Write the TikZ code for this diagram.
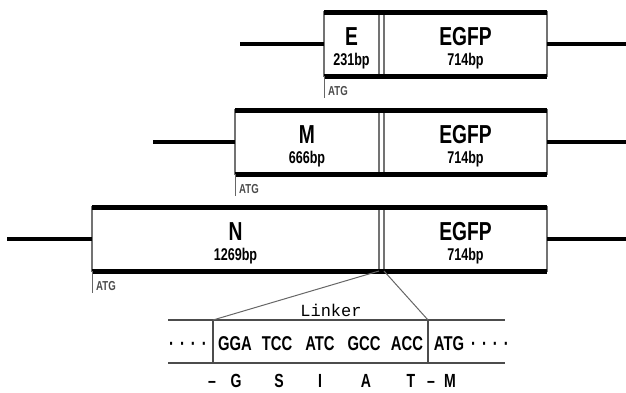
\documentclass[tikz,border=0pt]{standalone}
\usepackage{fontspec}
\setmainfont{Liberation Sans}
\newfontfamily\narrowfont[FakeStretch=0.74]{Liberation Sans}
\newfontfamily\linkerfont{Liberation Mono}
\usetikzlibrary{positioning}

\begin{document}
\begin{tikzpicture}[
  x=1pt,y=-1pt,
  segment/.style={draw=black!55,line width=1.2pt,minimum height=64pt,inner sep=0pt,outer sep=0pt,anchor=north west},
  bar/.style={line width=5pt},
  flank/.style={line width=4.5pt},
  genename/.style={font=\narrowfont\bfseries\fontsize{26}{26}\selectfont,anchor=base},
  bplabel/.style={font=\narrowfont\bfseries\fontsize{17}{17}\selectfont,anchor=base},
  atgmark/.style={draw=black!60,line width=1pt},
  atglabel/.style={text=black!70,font=\narrowfont\bfseries\fontsize{13}{13}\selectfont,anchor=base west,inner sep=0pt},
  strand/.style={draw=black!70,line width=1.3pt},
  zoomline/.style={draw=black!60,line width=1pt},
  codon/.style={font=\narrowfont\bfseries\fontsize{20}{20}\selectfont,anchor=base},
  residue/.style={font=\narrowfont\bfseries\fontsize{19}{19}\selectfont,anchor=base}
]
  \useasboundingbox (0,0) rectangle (626,392);

  % E construct
  \node[segment,minimum width=55pt] (E) at (324,12) {};
  \node[segment,minimum width=163pt,right=5pt of E] (GFPe) {};
  \draw[bar] (E.north west) -- (GFPe.north east);
  \draw[bar] (E.south west) -- (GFPe.south east);
  \coordinate (Le) at (240,44);
  \coordinate (Re) at (626,44);
  \draw[flank] (Le) -- (E.west);
  \draw[flank] (GFPe.east) -- (Re);
  \node[genename] at ([yshift=-33pt]E.north) {E};
  \node[bplabel] at ([yshift=-53pt]E.north) {231bp};
  \node[genename] at ([yshift=-33pt]GFPe.north) {EGFP};
  \node[bplabel] at ([yshift=-53pt]GFPe.north) {714bp};
  \draw[atgmark] (E.south west) -- ++(0,22) coordinate (Ae);
  \node[atglabel] at ([shift={(4pt,-19pt)}]E.south west) {ATG};

  % M construct
  \node[segment,minimum width=144pt] (M) at (235,110) {};
  \node[segment,minimum width=163pt,right=5pt of M] (GFPm) {};
  \draw[bar] (M.north west) -- (GFPm.north east);
  \draw[bar] (M.south west) -- (GFPm.south east);
  \coordinate (Lm) at (153,142);
  \coordinate (Rm) at (626,142);
  \draw[flank] (Lm) -- (M.west);
  \draw[flank] (GFPm.east) -- (Rm);
  \node[genename] at ([yshift=-33pt]M.north) {M};
  \node[bplabel] at ([yshift=-53pt]M.north) {666bp};
  \node[genename] at ([yshift=-33pt]GFPm.north) {EGFP};
  \node[bplabel] at ([yshift=-53pt]GFPm.north) {714bp};
  \draw[atgmark] (M.south west) -- ++(0,22) coordinate (Am);
  \node[atglabel] at ([shift={(4pt,-19pt)}]M.south west) {ATG};

  % N construct
  \node[segment,minimum width=287pt] (N) at (92,207) {};
  \node[segment,minimum width=163pt,right=5pt of N] (GFPn) {};
  \draw[bar] (N.north west) -- (GFPn.north east);
  \draw[bar] (N.south west) -- (GFPn.south east);
  \coordinate (Ln) at (7,239);
  \coordinate (Rn) at (626,239);
  \draw[flank] (Ln) -- (N.west);
  \draw[flank] (GFPn.east) -- (Rn);
  \node[genename] at ([yshift=-33pt]N.north) {N};
  \node[bplabel] at ([yshift=-53pt]N.north) {1269bp};
  \node[genename] at ([yshift=-33pt]GFPn.north) {EGFP};
  \node[bplabel] at ([yshift=-53pt]GFPn.north) {714bp};
  \draw[atgmark] (N.south west) -- ++(0,22) coordinate (An);
  \node[atglabel] at ([shift={(4pt,-19pt)}]N.south west) {ATG};

  % linker detail
  \node[segment,draw=black!70,line width=1.3pt,minimum width=215pt,minimum height=43pt] (LK) at (213,320) {};
  \coordinate (S1) at (168,320);
  \coordinate (S2) at (505,320);
  \coordinate (S3) at (168,363);
  \coordinate (S4) at (505,363);
  \draw[strand] (S1) -- (S2);
  \draw[strand] (S3) -- (S4);
  \draw[zoomline] (N.south east) -- (LK.north west);
  \draw[zoomline] (GFPn.south west) -- (LK.north east);
  \node[font=\linkerfont\fontsize{17}{17}\selectfont,anchor=base] (linker) at (331,316) {Linker};

  \node[codon] (dotsL) at (188,350) {·\hspace{6pt}·\hspace{6pt}·\hspace{6pt}·};
  \node[codon] (c1) at (235,350) {GGA};
  \node[codon] (c2) at (277,350) {TCC};
  \node[codon] (c3) at (320,350) {ATC};
  \node[codon] (c4) at (364,350) {GCC};
  \node[codon] (c5) at (407,350) {ACC};
  \node[codon] (c6) at (449,350) {ATG};
  \node[codon] (dotsR) at (490,350) {·\hspace{6pt}·\hspace{6pt}·\hspace{6pt}·};

  \node[residue] (r0) at (212,387) {–};
  \node[residue] (r1) at (236,387) {G};
  \node[residue] (r2) at (279,387) {S};
  \node[residue] (r3) at (320,387) {I};
  \node[residue] (r4) at (366,387) {A};
  \node[residue] (r5) at (411,387) {T};
  \node[residue] (r6) at (431,387) {–};
  \node[residue] (r7) at (450,387) {M};
\end{tikzpicture}
\end{document}
